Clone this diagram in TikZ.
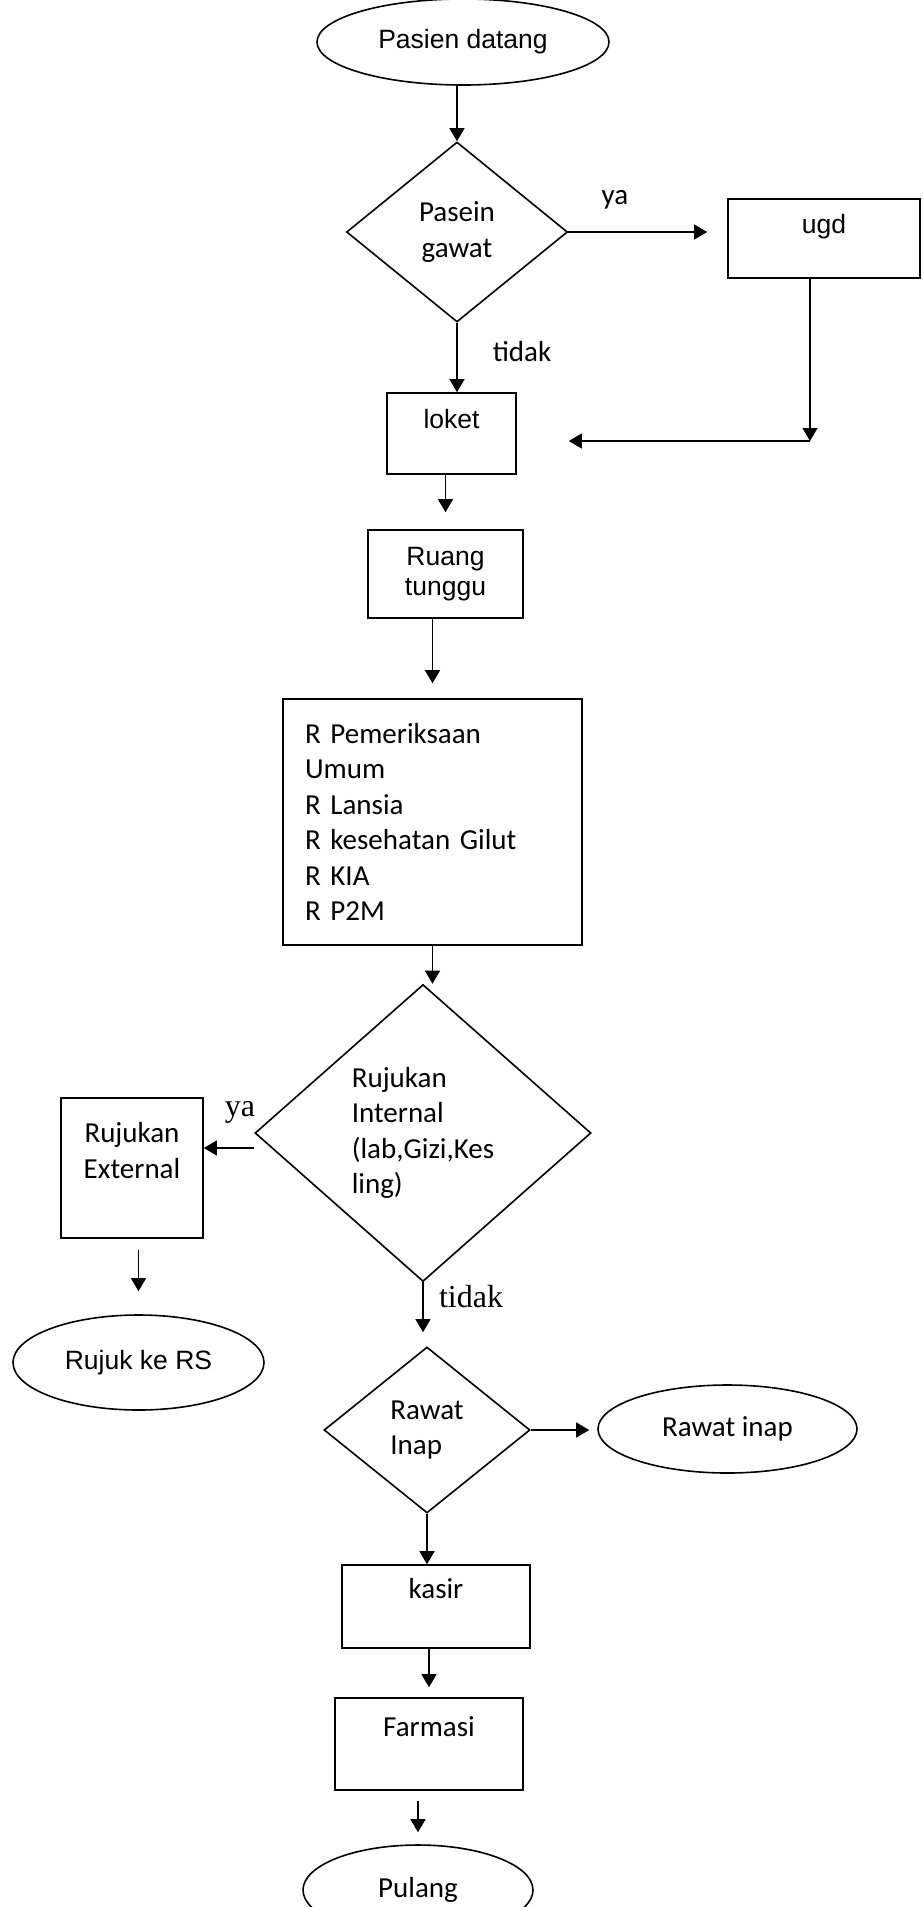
\documentclass[tikz,border=0pt]{standalone}
\usepackage{fontspec}
\setmainfont{Carlito}
\newfontfamily\arialfont{Liberation Sans}
\newfontfamily\timesfont{Liberation Serif}
\usetikzlibrary{shapes.geometric,arrows.meta}

\begin{document}
\begin{tikzpicture}[x=0.5pt,y=-0.5pt,
    every node/.style={inner sep=0pt,font=\fontsize{14.5pt}{17.75pt}\selectfont},
    proc/.style={draw,rectangle,line width=0.8pt,align=center},
    dec/.style={draw,diamond,line width=0.8pt},
    term/.style={draw,ellipse,line width=0.8pt,font=\arialfont\fontsize{13.25pt}{16pt}\selectfont},
    arial/.style={font=\arialfont\fontsize{13.25pt}{15pt}\selectfont},
    lbl/.style={font=\timesfont\fontsize{16pt}{18pt}\selectfont},
    arr/.style={-{Triangle[width=7.5pt,length=6.5pt]},line width=0.6pt}]
\useasboundingbox (0,0) rectangle (922,1907);

\node[term,minimum width=146pt,minimum height=43pt] (start) at (463,42) {Pasien datang};
\node[dec,minimum width=110.5pt,minimum height=90pt,align=center] (gawat) at (457,232) {Pasein\\gawat};
\node[proc,arial,minimum width=96pt,minimum height=39.5pt] (ugd) at (824,238.5) {ugd\\\mbox{}};
\node[proc,arial,minimum width=64.5pt,minimum height=40.5pt] (loket) at (451.5,433.5) {loket\\\mbox{}};
\node[proc,arial,minimum width=77.5pt,minimum height=44pt] (tunggu) at (445.5,574) {Ruang\\tunggu};
\node[proc,align=left,text width=127.5pt,inner xsep=11pt,minimum height=123pt] (layanan) at (432.5,822)
    {R Pemeriksaan\\Umum\\R Lansia\\R kesehatan Gilut\\R KIA\\R P2M};
\node[dec,minimum width=168pt,minimum height=148.5pt,align=left] (rujukan) at (423,1133)
    {Rujukan\\Internal\\(lab,Gizi,Kes\\ling)};
\node[proc,minimum width=71pt,minimum height=70pt] (eksternal) at (132,1168) {Rujukan\\External\\\mbox{}};
\node[term,minimum width=125.5pt,minimum height=47.5pt] (rs) at (138.5,1362.5) {Rujuk ke RS};
\node[dec,minimum width=103pt,minimum height=83pt,align=left] (rawat) at (427,1430) {Rawat\\Inap};
\node[term,font=\fontsize{14.5pt}{17.75pt}\selectfont,minimum width=129.5pt,minimum height=44pt] (inap) at (727.5,1429) {Rawat inap};
\node[proc,minimum width=94pt,minimum height=41.5pt] (kasir) at (436,1606.5) {kasir\\\mbox{}};
\node[proc,minimum width=94pt,minimum height=46pt] (farmasi) at (429,1744) {Farmasi\\\mbox{}};
\node[term,font=\fontsize{14.5pt}{17.75pt}\selectfont,minimum width=115pt,minimum height=45pt] (pulang) at (418,1890) {Pulang};

\node (ya1) at (615,200) {ya};
\node (tidak1) at (522,352) {tidak};
\node[lbl] (ya2) at (240,1112) {ya};
\node[lbl] (tidak2) at (471,1297) {tidak};

\coordinate (balik) at (810,441);
\draw[arr] (start.south -| gawat) -- (gawat.north);
\draw[arr,shorten >=10pt] (gawat.east) -- (gawat.east -| ugd.west);
\draw[arr] (ugd.south -| balik) -- (balik);
\draw[arr,shorten >=26pt] (balik) -- (balik -| loket.east);
\draw[arr] (gawat.south) -- (gawat.south |- loket.north);
\draw[arr,shorten >=8.5pt] (loket.south -| tunggu) -- (tunggu.north);
\draw[arr,shorten >=7.5pt] (tunggu.south -| layanan) -- (layanan.north);
\draw[arr] (layanan.south) -- (layanan.south |- rujukan.north);
\draw[arr] ([yshift=-7.5pt]rujukan.west) -- ([yshift=-7.5pt]rujukan.west -| eksternal.east);
\draw[arr,shorten <=5.5pt,shorten >=11.5pt] (eksternal.south -| rs) -- (rs.north);
\draw[arr,shorten >=7pt] (rujukan.south) -- (rujukan.south |- rawat.north);
\draw[arr,shorten >=4pt] (rawat.east) -- (rawat.east -| inap.west);
\draw[arr] (rawat.south) -- (rawat.south |- kasir.north);
\draw[arr,shorten >=5pt] (kasir.south -| farmasi) -- (farmasi.north);
\draw[arr,shorten <=5pt,shorten >=6pt] (farmasi.south -| pulang) -- (pulang.north);
\end{tikzpicture}
\end{document}
